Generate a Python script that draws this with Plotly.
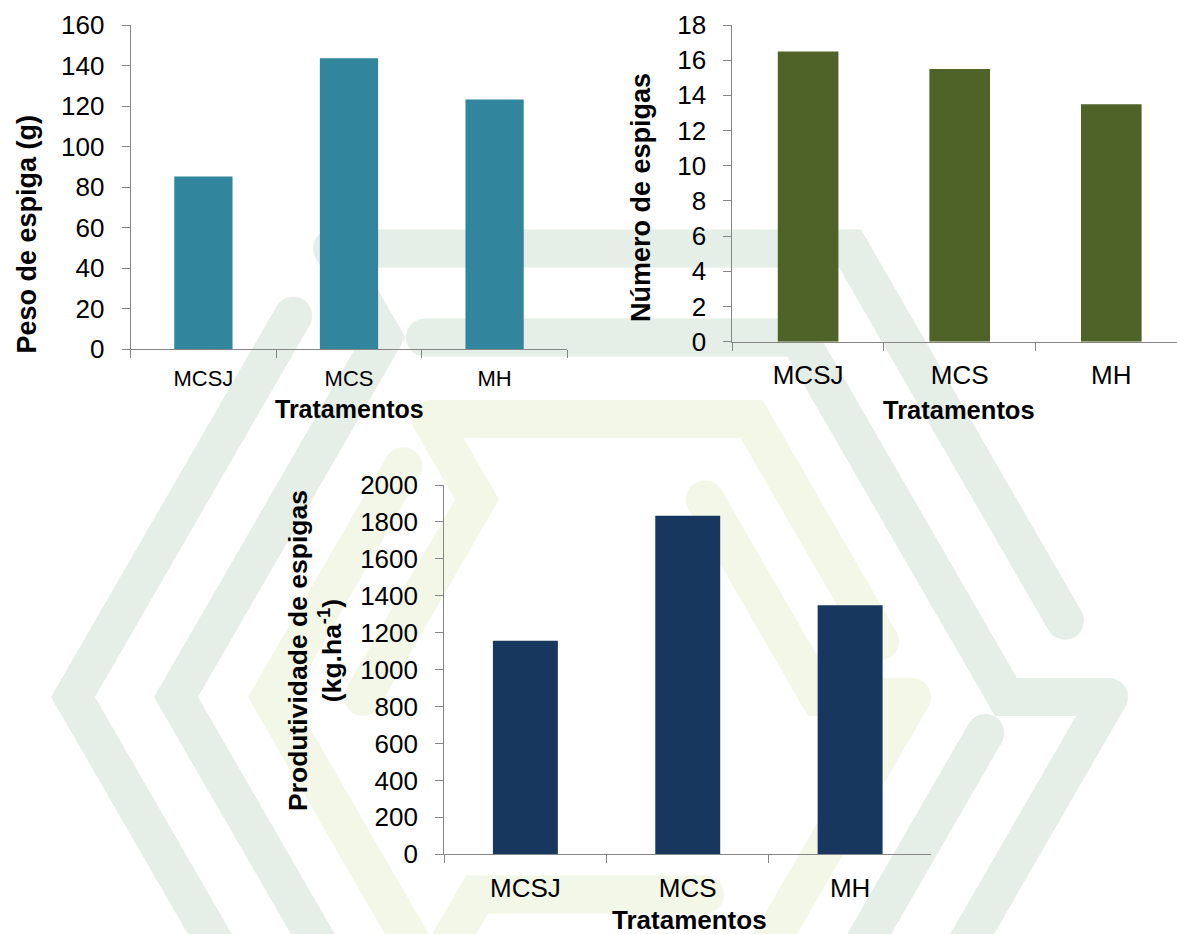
import math
import plotly.graph_objects as go

W, H = 1177, 934

# ---- data -------------------------------------------------------------
categories = ["MCSJ", "MCS", "MH"]
peso_espiga = [85.2, 143.6, 123.3]          # g
numero_espigas = [16.5, 15.5, 13.5]
produtividade = [1157, 1834, 1349]          # kg/ha

peso_ticks = list(range(0, 161, 20))
numero_ticks = list(range(0, 19, 2))
prod_ticks = list(range(0, 2001, 200))

# ---- styling ----------------------------------------------------------
FONT = "Liberation Sans, Arial, sans-serif"
AXIS_GREY = "#868686"
TEAL = "#31859c"
OLIVE = "#4f6228"
NAVY = "#17375e"
WM_GREEN = "#e6eee8"
WM_YELLOW = "#f3f7e7"
STROKE = 38


def px_x(v):
    return v / W


def px_y(v):
    return 1 - v / H


# ---- background emblem: nested hexagon strokes -------------------------
def hexagon(cx, cy, s):
    h = s * math.sqrt(3) / 2
    return {"L": (cx - s, cy), "TL": (cx - s / 2, cy - h), "TR": (cx + s / 2, cy - h),
            "R": (cx + s, cy), "BR": (cx + s / 2, cy + h), "BL": (cx - s / 2, cy + h)}


def along(p, q, t):
    return (p[0] + (q[0] - p[0]) * t, p[1] + (q[1] - p[1]) * t)


CX, CY = 591, 697
h1, h2, h3, h4 = (hexagon(CX, CY, s) for s in (518, 415, 321, 228))

green_paths = [
    [along(h1["L"], h1["TL"], 0.85), h1["L"], h1["BL"]],
    [along(h1["TR"], h1["R"], 0.83), h1["TR"], h1["TL"], h2["TL"], h2["L"], h2["BL"]],
    [along(h2["TL"], h2["TR"], 0.10), h2["TR"], h2["R"], h1["R"], h1["BR"]],
    [along(h2["R"], h2["BR"], 0.10), h2["BR"]],
]
yellow_paths = [
    [along(h3["L"], h3["TL"], 0.83), h3["L"], h3["BL"]],
    [along(h3["TR"], h3["R"], 0.80), h3["TR"], h3["TL"], h4["TL"], h4["L"]],
    [h4["TR"], h4["R"], h3["R"], h3["BR"]],
    [h4["BR"], h4["BL"], h3["BL"]],
]

fig = go.Figure()

for paths, colour in ((green_paths, WM_GREEN), (yellow_paths, WM_YELLOW)):
    for path in paths:
        fig.add_trace(go.Scatter(
            x=[p[0] for p in path], y=[p[1] for p in path],
            mode="lines+markers", xaxis="x", yaxis="y",
            line=dict(color=colour, width=STROKE),
            marker=dict(color=colour, size=STROKE, line=dict(width=0)),
            hoverinfo="skip", showlegend=False,
        ))

# ---- bar charts -------------------------------------------------------
fig.add_trace(go.Bar(x=categories, y=peso_espiga, marker=dict(color=TEAL, line=dict(width=0)),
                     xaxis="x2", yaxis="y2", showlegend=False))
fig.add_trace(go.Bar(x=categories, y=numero_espigas, marker=dict(color=OLIVE, line=dict(width=0)),
                     xaxis="x3", yaxis="y3", showlegend=False))
fig.add_trace(go.Bar(x=categories, y=produtividade, marker=dict(color=NAVY, line=dict(width=0)),
                     xaxis="x4", yaxis="y4", showlegend=False))


def cat_axis(domain, anchor, size, rng, standoff):
    return dict(domain=domain, anchor=anchor, type="category", range=rng,
                showline=True, linecolor=AXIS_GREY, linewidth=1,
                ticks="outside", tickson="boundaries", ticklen=8, tickcolor=AXIS_GREY,
                tickwidth=1, showgrid=False, zeroline=False, automargin=False,
                tickfont=dict(family=FONT, size=size, color="#000000"),
                ticklabelstandoff=standoff, fixedrange=True)


def val_axis(domain, anchor, ticks, size, standoff):
    return dict(domain=domain, anchor=anchor, range=[ticks[0], ticks[-1]],
                tickmode="array", tickvals=ticks, ticktext=[str(t) for t in ticks],
                showline=True, linecolor=AXIS_GREY, linewidth=1,
                ticks="outside", ticklen=8, tickcolor=AXIS_GREY, tickwidth=1,
                showgrid=False, zeroline=False, automargin=False,
                tickfont=dict(family=FONT, size=size, color="#000000"),
                ticklabelstandoff=standoff, fixedrange=True)


# plot areas (pixel edges)
c1 = dict(x0=130.6, x1=567.4, y0=25.0, y1=349.3)
c2 = dict(x0=732.3, x1=1177.0, y0=25.0, y1=341.7)
c3 = dict(x0=444.2, x1=931.3, y0=485.0, y1=854.3)
cat_w2 = 151.6  # width of one category on the right-hand chart (its axis runs past the page)

layout = dict(
    width=W, height=H, margin=dict(l=0, r=0, t=0, b=0, pad=0, autoexpand=False),
    paper_bgcolor="#ffffff", plot_bgcolor="rgba(0,0,0,0)",
    bargap=0.6, showlegend=False,
    font=dict(family=FONT, color="#000000"),
    xaxis=dict(domain=[0, 1], range=[0, W], visible=False, fixedrange=True, automargin=False),
    yaxis=dict(domain=[0, 1], range=[H, 0], visible=False, fixedrange=True, automargin=False),
)

layout["xaxis2"] = cat_axis([px_x(c1["x0"]), px_x(c1["x1"])], "y2", 22, [-0.5, 2.5], 9)
layout["yaxis2"] = val_axis([px_y(c1["y1"]), px_y(c1["y0"])], "x2", peso_ticks, 26, 12)

span2 = (c2["x1"] - c2["x0"]) / cat_w2
layout["xaxis3"] = cat_axis([px_x(c2["x0"]), 1.0], "y3", 26, [-0.5, -0.5 + span2], 10)
layout["yaxis3"] = val_axis([px_y(c2["y1"]), px_y(c2["y0"])], "x3", numero_ticks, 26, 12)

layout["xaxis4"] = cat_axis([px_x(c3["x0"]), px_x(c3["x1"])], "y4", 26, [-0.5, 2.5], 10)
layout["yaxis4"] = val_axis([px_y(c3["y1"]), px_y(c3["y0"])], "x4", prod_ticks, 26, 12)

fig.update_layout(**layout)


def title(text, x, y, size, angle=0):
    fig.add_annotation(text=text, x=px_x(x), y=px_y(y), xref="paper", yref="paper",
                       xanchor="center", yanchor="middle", showarrow=False,
                       textangle=angle, align="center",
                       font=dict(family=FONT, size=size, color="#000000"))


title("<b>Peso de espiga (g)</b>", 26, 234.5, 27, -90)
title("<b>Tratamentos</b>", 349, 409, 25)

title("<b>Número de espigas</b>", 641, 198, 27, -90)
title("<b>Tratamentos</b>", 959, 410, 25.5)

title("<b>Produtividade de espigas<br>(kg.ha<sup>-1</sup>)</b>", 315, 651, 26.5, -90)
title("<b>Tratamentos</b>", 689, 920, 26)

fig.write_html("out.html")
